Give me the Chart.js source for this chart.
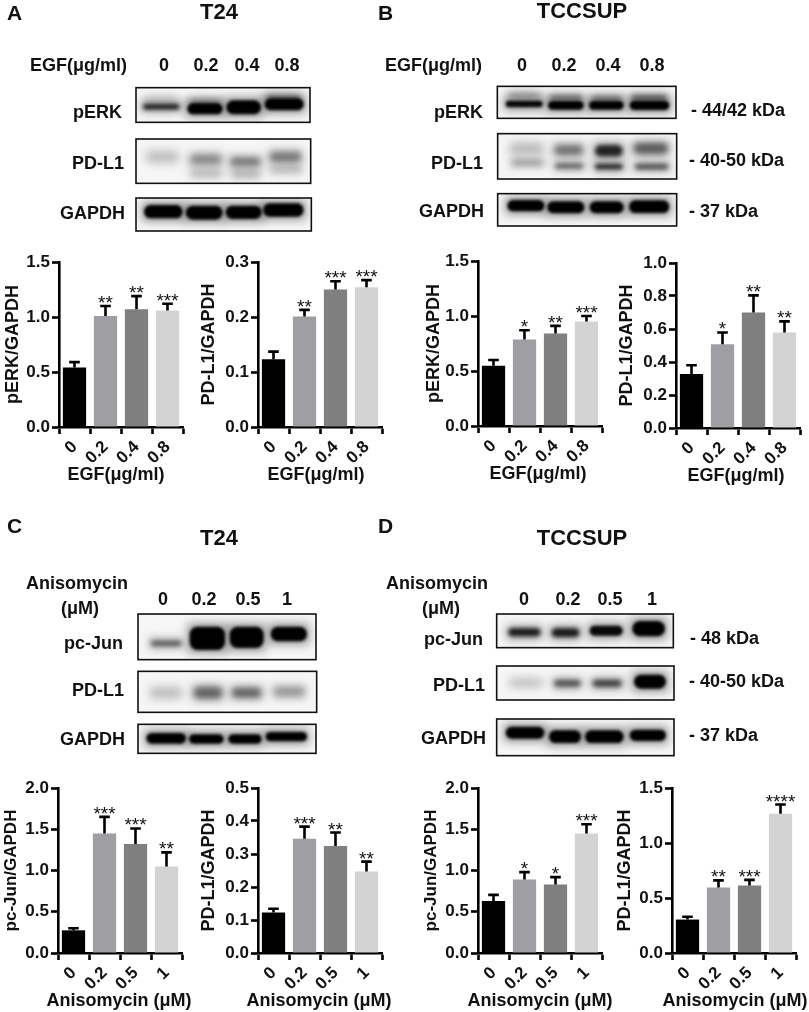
<!DOCTYPE html>
<html>
<head>
<meta charset="utf-8">
<title>EGF and anisomycin, PD-L1</title>
<script src="https://cdn.jsdelivr.net/npm/chart.js@4/dist/chart.umd.min.js"></script>
<style>
  html, body { margin: 0; background: #fff; }
  #page { position: relative; width: 809px; height: 1012px; overflow: hidden; }
  canvas { position: absolute; }
  .t { position: absolute; font: bold 18px "Liberation Sans", Arial, sans-serif; color: #111; white-space: nowrap; line-height: 1; }
</style>
</head>
<body>
<div id="page"><canvas id="blots" width="809" height="1012" style="left:0;top:0"></canvas></div>
<script>
const egfDoses = ['0', '0.2', '0.4', '0.8'];
const anisoDoses = ['0', '0.2', '0.5', '1'];
const barColors = ['#000000', '#9e9ea3', '#7f7f7f', '#d3d3d3'];

const perkT24 = [0.54, 1.01, 1.07, 1.06];
const perkT24Err = [0.59, 1.10, 1.19, 1.12];
const perkT24Stars = ['', '**', '**', '***'];
const perkT24Ticks = [0, 0.5, 1, 1.5];

const pdl1EgfT24 = [0.123, 0.201, 0.25, 0.254];
const pdl1EgfT24Err = [0.137, 0.213, 0.265, 0.267];
const pdl1EgfT24Stars = ['', '**', '***', '***'];
const pdl1EgfT24Ticks = [0, 0.1, 0.2, 0.3];

const perkTcc = [0.547, 0.787, 0.84, 0.95];
const perkTccErr = [0.60, 0.87, 0.91, 1.0];
const perkTccStars = ['', '*', '**', '***'];
const perkTccTicks = [0, 0.5, 1, 1.5];

const pdl1EgfTcc = [0.328, 0.508, 0.70, 0.579];
const pdl1EgfTccErr = [0.38, 0.579, 0.804, 0.646];
const pdl1EgfTccStars = ['', '*', '**', '**'];
const pdl1EgfTccTicks = [0, 0.2, 0.4, 0.6, 0.8, 1];

const pcjunT24 = [0.275, 1.45, 1.32, 1.05];
const pcjunT24Err = [0.30, 1.65, 1.51, 1.22];
const pcjunT24Stars = ['', '***', '***', '**'];
const pcjunT24Ticks = [0, 0.5, 1, 1.5, 2];

const pdl1AnisoT24 = [0.123, 0.346, 0.324, 0.247];
const pdl1AnisoT24Err = [0.134, 0.383, 0.365, 0.277];
const pdl1AnisoT24Stars = ['', '***', '**', '**'];
const pdl1AnisoT24Ticks = [0, 0.1, 0.2, 0.3, 0.4, 0.5];

const pcjunTcc = [0.63, 0.89, 0.83, 1.45];
const pcjunTccErr = [0.705, 0.98, 0.92, 1.56];
const pcjunTccStars = ['', '*', '*', '***'];
const pcjunTccTicks = [0, 0.5, 1, 1.5, 2];

const pdl1AnisoTcc = [0.304, 0.596, 0.614, 1.265];
const pdl1AnisoTccErr = [0.33, 0.66, 0.665, 1.35];
const pdl1AnisoTccStars = ['', '**', '***', '****'];
const pdl1AnisoTccTicks = [0, 0.5, 1, 1.5];

const FONT = '"Liberation Sans", Arial, sans-serif';
const page = document.getElementById('page');

// error bars, stars and the x title (the library squeezes long titles to the chart width)
const errorBars = {
  id: 'errorBars',
  afterDatasetsDraw(chart, args, opts) {
    const ctx = chart.ctx;
    const y = chart.scales.y;
    const bars = chart.getDatasetMeta(0).data;
    const area = chart.chartArea;
    ctx.save();
    ctx.strokeStyle = '#000';
    ctx.fillStyle = '#111';
    ctx.lineWidth = 2.6;
    ctx.textAlign = 'center';
    ctx.font = '19px ' + FONT;
    bars.forEach((bar, i) => {
      const top = y.getPixelForValue(opts.err[i]);
      const base = y.getPixelForValue(chart.data.datasets[0].data[i]);
      ctx.beginPath();
      ctx.moveTo(bar.x, base);
      ctx.lineTo(bar.x, top);
      ctx.moveTo(bar.x - 5.3, top);
      ctx.lineTo(bar.x + 5.3, top);
      ctx.stroke();
      if (opts.stars[i]) ctx.fillText(opts.stars[i], bar.x, top + 3);
    });
    ctx.font = 'bold 18px ' + FONT;
    ctx.textBaseline = 'middle';
    ctx.fillText(opts.xTitle, (area.left + area.right) / 2 + opts.xShift, area.bottom + 48);
    ctx.restore();
  }
};

function makeChart(axisX, axisTop, labels, values, err, stars, ticks, yTitle, xTitle, titleGap, xShift) {
  const canvas = document.createElement('canvas');
  canvas.width = 200;
  canvas.height = 239;
  canvas.style.left = (axisX - 60) + 'px';
  canvas.style.top = (axisTop - 12) + 'px';
  page.appendChild(canvas);
  new Chart(canvas.getContext('2d'), {
    type: 'bar',
    data: {
      labels: labels,
      datasets: [{
        data: values,
        backgroundColor: barColors,
        categoryPercentage: 0.75,
        barPercentage: 1
      }]
    },
    options: {
      responsive: false,
      animation: false,
      layout: { padding: { top: 12, right: 16, left: 0, bottom: 0 } },
      plugins: {
        legend: { display: false },
        tooltip: { enabled: false },
        errorBars: { err: err, stars: stars, xTitle: xTitle, xShift: xShift }
      },
      scales: {
        x: {
          afterFit(s) { s.height = 62; s.paddingLeft = 0; s.paddingRight = 0; },
          border: { color: '#000', width: 2.6 },
          grid: { drawOnChartArea: false, color: '#000', tickLength: 7, tickWidth: 2.6 },
          ticks: { color: '#111', font: { family: FONT, size: 17, weight: 'bold' }, maxRotation: 45, minRotation: 45, padding: 3, autoSkip: false }
        },
        y: {
          min: 0,
          max: ticks[ticks.length - 1],
          afterFit(s) { s.width = 60; s.paddingTop = 0; s.paddingBottom = 0; },
          border: { color: '#000', width: 2.6 },
          grid: { drawOnChartArea: false, color: '#000', tickLength: 7, tickWidth: 2.6 },
          ticks: { color: '#111', font: { family: FONT, size: 17, weight: 'bold' }, stepSize: ticks[1], padding: 2, callback: v => v.toFixed(1) },
          title: { display: true, text: yTitle, color: '#111', font: { family: FONT, size: yTitle.startsWith('pc') ? 17 : 18, weight: 'bold' }, padding: { top: 49 - titleGap, bottom: 0 } }
        }
      }
    },
    plugins: [errorBars]
  });
}

Chart.defaults.font.family = FONT;

const egfTitle = 'EGF(\u03bcg/ml)';
const anisoTitle = 'Anisomycin (\u03bcM)';
makeChart(59, 262, egfDoses, perkT24, perkT24Err, perkT24Stars, perkT24Ticks, 'pERK/GAPDH', egfTitle, 46, -5);
makeChart(258, 262, egfDoses, pdl1EgfT24, pdl1EgfT24Err, pdl1EgfT24Stars, pdl1EgfT24Ticks, 'PD-L1/GAPDH', egfTitle, 49, -4);
makeChart(478, 261, egfDoses, perkTcc, perkTccErr, perkTccStars, perkTccTicks, 'pERK/GAPDH', egfTitle, 44, -2);
makeChart(676, 263, egfDoses, pdl1EgfTcc, pdl1EgfTccErr, pdl1EgfTccStars, pdl1EgfTccTicks, 'PD-L1/GAPDH', egfTitle, 49, -2);
makeChart(58, 788, anisoDoses, pcjunT24, pcjunT24Err, pcjunT24Stars, pcjunT24Ticks, 'pc-Jun/GAPDH', anisoTitle, 46, -1);
makeChart(258, 788, anisoDoses, pdl1AnisoT24, pdl1AnisoT24Err, pdl1AnisoT24Stars, pdl1AnisoT24Ticks, 'PD-L1/GAPDH', anisoTitle, 49, -1);
makeChart(478, 788, anisoDoses, pcjunTcc, pcjunTccErr, pcjunTccStars, pcjunTccTicks, 'pc-Jun/GAPDH', anisoTitle, 46, 0);
makeChart(672, 788, anisoDoses, pdl1AnisoTcc, pdl1AnisoTccErr, pdl1AnisoTccStars, pdl1AnisoTccTicks, 'PD-L1/GAPDH', anisoTitle, 47, 1);

// western blot panels, rough look only. measured on a 3x crop: [x0, x1, centre y, height, darkness]
const blotPanels = [
  { ox: 0, oy: 0, box: [408, 263, 930, 367], bands: [[432, 535, 320, 9, .9], [435, 530, 298, 6, .25], [565, 665, 326, 28, 1], [570, 660, 306, 8, .5], [682, 780, 322, 36, 1], [797, 908, 313, 30, 1], [800, 900, 293, 8, .6]] },
  { ox: 0, oy: 0, box: [408, 417, 932, 550], bands: [[440, 535, 470, 30, .18], [570, 665, 478, 28, .38], [572, 665, 520, 18, .22], [690, 782, 485, 26, .42], [695, 780, 522, 16, .25], [808, 905, 470, 30, .42], [812, 905, 508, 14, .25]] },
  { ox: 0, oy: 0, box: [408, 594, 934, 693], bands: [[435, 545, 635, 34, 1], [560, 665, 638, 36, 1], [680, 782, 637, 34, 1], [792, 908, 630, 34, 1]] },
  { ox: 400, oy: 0, box: [292, 259, 828, 355], bands: [[320, 425, 312, 14, .95], [325, 420, 287, 8, .5], [447, 548, 316, 20, 1], [450, 545, 293, 8, .65], [570, 668, 316, 20, 1], [575, 665, 295, 8, .6], [692, 805, 316, 22, 1], [695, 800, 293, 10, .7]] },
  { ox: 400, oy: 0, box: [293, 401, 830, 537], bands: [[330, 430, 445, 28, .2], [335, 430, 488, 12, .4], [462, 550, 450, 30, .45], [465, 550, 498, 14, .6], [585, 668, 452, 34, .8], [585, 668, 500, 16, .8], [700, 805, 445, 32, .55], [705, 805, 500, 14, .7]] },
  { ox: 400, oy: 0, box: [293, 581, 830, 678], bands: [[325, 430, 617, 28, 1], [445, 550, 622, 30, 1], [572, 668, 622, 30, 1], [690, 805, 620, 32, 1]] },
  { ox: 0, oy: 510, box: [414, 312, 948, 449], bands: [[452, 545, 400, 16, .6], [572, 672, 385, 64, 1], [692, 788, 382, 58, 1], [815, 918, 372, 38, 1]] },
  { ox: 0, oy: 510, box: [414, 484, 950, 607], bands: [[450, 545, 548, 30, .18], [580, 668, 548, 36, .5], [695, 785, 548, 30, .5], [820, 915, 545, 28, .32]] },
  { ox: 0, oy: 510, box: [414, 643, 948, 730], bands: [[442, 555, 685, 26, 1], [570, 668, 687, 22, 1], [688, 782, 687, 22, 1], [800, 918, 680, 22, 1]] },
  { ox: 400, oy: 510, box: [290, 312, 820, 413], bands: [[328, 418, 367, 18, .85], [458, 535, 368, 20, .85], [572, 665, 362, 24, .95], [700, 792, 356, 40, 1]] },
  { ox: 400, oy: 510, box: [290, 468, 822, 570], bands: [[330, 425, 518, 18, .2], [462, 542, 520, 20, .6], [578, 665, 520, 20, .7], [705, 795, 515, 36, 1]] },
  { ox: 400, oy: 510, box: [290, 627, 822, 737], bands: [[320, 430, 668, 30, 1], [450, 540, 680, 32, 1], [558, 668, 680, 32, 1], [692, 795, 676, 28, 1]] }
];

const bctx = document.getElementById('blots').getContext('2d');
blotPanels.forEach(p => {
  const x0 = p.ox + p.box[0] / 3, y0 = p.oy + p.box[1] / 3;
  const w = (p.box[2] - p.box[0]) / 3, h = (p.box[3] - p.box[1]) / 3;
  bctx.save();
  bctx.beginPath();
  bctx.rect(x0, y0, w, h);
  bctx.clip();
  bctx.fillStyle = '#f6f6f6';
  bctx.fillRect(x0, y0, w, h);
  p.bands.forEach(b => {
    // blur eats the edges of the dark bands, so those get a little extra size
    const grow = b[4] >= 0.85 ? 1 : 0;
    const bx = p.ox + b[0] / 3 - grow, bw = (b[1] - b[0]) / 3 + grow * 2;
    const bh = b[3] / 3 + grow * 2, by = p.oy + b[2] / 3 - bh / 2;
    // soft halo first, then the band itself; faint bands are more diffuse
    bctx.filter = 'blur(5px)';
    bctx.fillStyle = 'rgba(0,0,0,' + (0.4 * b[4]) + ')';
    bctx.fillRect(bx - 2, by - 3, bw + 4, bh + 6);
    bctx.filter = 'blur(' + (1.6 + (1 - b[4]) * 3) + 'px)';
    bctx.fillStyle = 'rgba(0,0,0,' + b[4] + ')';
    bctx.beginPath();
    bctx.roundRect(bx, by, bw, bh, Math.min(bh / 2, 8));
    bctx.fill();
  });
  bctx.restore();
  bctx.filter = 'none';
  bctx.strokeStyle = '#111';
  bctx.lineWidth = 1.6;
  bctx.strokeRect(x0, y0, w, h);
});

// page text: [text, x, centre y, anchor, size]
const pageText = [
  ['A', 7, 12, 'l', 21], ['B', 378, 12, 'l', 21], ['C', 7, 525, 'l', 21], ['D', 378, 525, 'l', 21],
  ['T24', 219, 12, 'c', 22], ['TCCSUP', 582, 11, 'c', 22], ['T24', 219, 538, 'c', 22], ['TCCSUP', 582, 538, 'c', 22],
  ['EGF(\u03bcg/ml)', 127, 65, 'r', 18], ['0', 164, 65, 'c', 18], ['0.2', 206, 65, 'c', 18], ['0.4', 247, 65, 'c', 18], ['0.8', 287, 65, 'c', 18],
  ['EGF(\u03bcg/ml)', 482, 65, 'r', 18], ['0', 522, 65, 'c', 18], ['0.2', 564, 65, 'c', 18], ['0.4', 608, 65, 'c', 18], ['0.8', 652, 65, 'c', 18],
  ['pERK', 122, 112, 'r', 18], ['PD-L1', 124, 163, 'r', 18], ['GAPDH', 125, 213, 'r', 18],
  ['pERK', 483, 112, 'r', 18], ['PD-L1', 483, 163, 'r', 18], ['GAPDH', 484, 211, 'r', 18],
  ['- 44/42 kDa', 691, 110, 'l', 18], ['- 40-50 kDa', 689, 160, 'l', 18], ['- 37 kDa', 689, 211, 'l', 18],
  ['Anisomycin', 77, 583, 'c', 18], ['(\u03bcM)', 80, 608, 'c', 18],
  ['0', 163, 599, 'c', 18], ['0.2', 204, 599, 'c', 18], ['0.5', 248, 599, 'c', 18], ['1', 287, 599, 'c', 18],
  ['Anisomycin', 437, 583, 'c', 18], ['(\u03bcM)', 441, 608, 'c', 18],
  ['0', 524, 599, 'c', 18], ['0.2', 568, 599, 'c', 18], ['0.5', 610, 599, 'c', 18], ['1', 652, 599, 'c', 18],
  ['pc-Jun', 123, 643, 'r', 18], ['PD-L1', 124, 690, 'r', 18], ['GAPDH', 125, 739, 'r', 18],
  ['pc-Jun', 483, 639, 'r', 18], ['PD-L1', 485, 685, 'r', 18], ['GAPDH', 486, 738, 'r', 18],
  ['- 48 kDa', 690, 638, 'l', 18], ['- 40-50 kDa', 689, 681, 'l', 18], ['- 37 kDa', 689, 735, 'l', 18]
];
const shift = { l: '0', c: '-50%', r: '-100%' };
pageText.forEach(t => {
  const el = document.createElement('div');
  el.className = 't';
  el.textContent = t[0];
  el.style.left = t[1] + 'px';
  el.style.top = t[2] + 'px';
  el.style.fontSize = t[4] + 'px';
  el.style.transform = 'translate(' + shift[t[3]] + ',-50%)';
  page.appendChild(el);
});
</script>
</body>
</html>
